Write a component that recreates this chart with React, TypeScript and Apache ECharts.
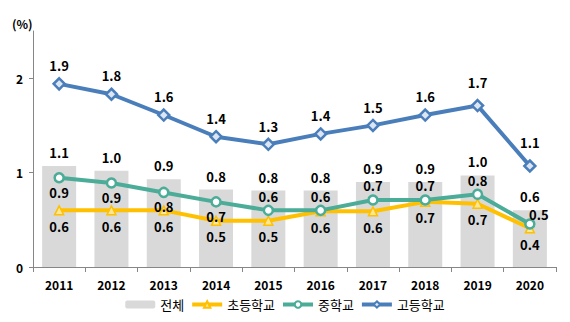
import React, { useEffect, useRef } from "react";
import * as echarts from "echarts";

const years = ["2011", "2012", "2013", "2014", "2015", "2016", "2017", "2018", "2019", "2020"];
const totalValues = [1.07, 1.02, 0.93, 0.82, 0.81, 0.81, 0.9, 0.9, 0.97, 0.6];
const elementaryValues = [0.6, 0.6, 0.6, 0.49, 0.49, 0.59, 0.59, 0.69, 0.67, 0.41];
const middleValues = [0.945, 0.89, 0.79, 0.69, 0.6, 0.6, 0.71, 0.71, 0.77, 0.455];
const highValues = [1.94, 1.83, 1.61, 1.38, 1.3, 1.41, 1.5, 1.61, 1.71, 1.07];
const middleLabelPos = ["bottom", "bottom", "bottom", "bottom", "top", "top", "top", "top", "top", "right"];
const yTicks = [0, 1, 2];

const FONT = "'Noto Sans CJK KR', 'Noto Sans', sans-serif";
const BLUE = "#4a7ebb";
const TEAL = "#4bac98";
const YELLOW = "#ffc000";
const GREY = "#d9d9d9";

const fmt = (p: any) => Number(p.value).toFixed(1);

export default function App() {
  const ref = useRef<HTMLDivElement>(null);
  useEffect(() => {
    if (!ref.current) return;
    const chart = echarts.init(ref.current, null, { renderer: "svg" });
    const labelBase = {
      show: true,
      formatter: fmt,
      fontFamily: FONT,
      fontWeight: "bold",
      fontSize: 13,
      color: "#000",
    };
    chart.setOption({
      animation: false,
      textStyle: { fontFamily: FONT },
      grid: { left: 33, right: 14, top: 31, bottom: 55, containLabel: false },
      legend: {
        bottom: 6,
        left: "center",
        itemWidth: 30,
        itemHeight: 8,
        itemGap: 6,
        lineStyle: { width: 4 },
        textStyle: { fontFamily: FONT, fontSize: 13, color: "#000" },
        data: ["전체", "초등학교", "중학교", "고등학교"],
      },
      graphic: [
        {
          type: "text",
          left: 12,
          top: 17,
          style: { text: "(%)", font: `bold 12px ${FONT}`, fill: "#000" },
        },
      ],
      xAxis: {
        type: "category",
        data: years,
        axisLine: { lineStyle: { color: "#868686" } },
        axisTick: { show: true, alignWithLabel: false, length: 5, lineStyle: { color: "#868686" } },
        axisLabel: { fontFamily: FONT, fontWeight: "bold", fontSize: 12, color: "#000", margin: 11 },
      },
      yAxis: {
        type: "value",
        min: 0,
        max: 2.5,
        interval: 1,
        splitLine: { show: false },
        axisLine: { show: true, lineStyle: { color: "#868686" } },
        axisTick: { show: true, length: 4, customValues: yTicks, lineStyle: { color: "#868686" } },
        axisLabel: {
          customValues: yTicks,
          fontFamily: FONT,
          fontWeight: "bold",
          fontSize: 12,
          color: "#000",
          margin: 10,
        },
      },
      series: [
        {
          name: "전체",
          type: "bar",
          data: totalValues,
          barWidth: 34,
          itemStyle: { color: GREY },
          label: { ...labelBase, position: "top", distance: 7 },
          z: 1,
        },
        {
          name: "초등학교",
          type: "line",
          data: elementaryValues,
          symbol: "triangle",
          symbolSize: 9,
          lineStyle: { color: YELLOW, width: 4 },
          itemStyle: { color: "#ffe699", borderColor: YELLOW, borderWidth: 1.5 },
          label: { ...labelBase, position: "bottom", distance: 4 },
          z: 3,
        },
        {
          name: "중학교",
          type: "line",
          data: middleValues.map((v, i) => ({
            value: v,
            label:
              middleLabelPos[i] === "right"
                ? { position: "top", offset: [9, 5] }
                : { position: middleLabelPos[i] },
          })),
          symbol: "circle",
          symbolSize: 9,
          lineStyle: { color: TEAL, width: 4 },
          itemStyle: { color: "#ffffff", borderColor: TEAL, borderWidth: 2.5 },
          label: { ...labelBase, distance: 2 },
          z: 4,
        },
        {
          name: "고등학교",
          type: "line",
          data: highValues.map((v, i) => ({
            value: v,
            label: i >= 8 ? { distance: 10 } : {},
          })),
          symbol: "diamond",
          symbolSize: 11,
          lineStyle: { color: BLUE, width: 4 },
          itemStyle: { color: "#dce6f2", borderColor: BLUE, borderWidth: 2.5 },
          label: { ...labelBase, position: "top", distance: 5 },
          z: 5,
        },
      ],
    });
    return () => chart.dispose();
  }, []);
  return <div ref={ref} style={{ width: 570, height: 322, position: "absolute", left: 0, top: 0 }} />;
}
